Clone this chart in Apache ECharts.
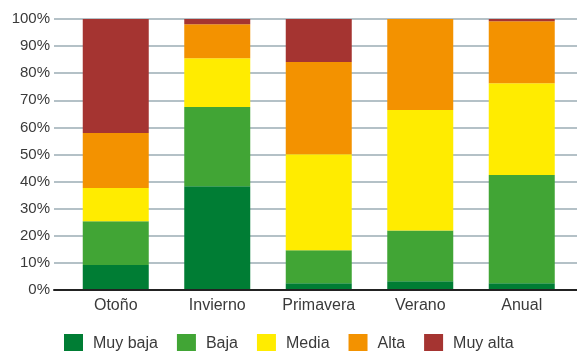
<!DOCTYPE html>
<html>
<head>
<meta charset="utf-8">
<script src="https://cdn.jsdelivr.net/npm/echarts@6/dist/echarts.min.js"></script>
<style>
  html, body { margin: 0; padding: 0; background: #fff; }
  #chart { width: 577px; height: 351px; }
</style>
</head>
<body>
<div id="chart"></div>
<script>
// Seasons and share (%) of each level
const categories = ['Otoño', 'Invierno', 'Primavera', 'Verano', 'Anual'];
const muyBaja = [9.2, 38.3, 2.5, 3.2, 2.5];
const baja    = [16.2, 29.2, 12.2, 18.8, 39.9];
const media   = [12.2, 18.0, 35.4, 44.4, 33.9];
const alta    = [20.3, 12.6, 34.0, 33.6, 22.9];
const muyAlta = [42.1, 1.9, 15.9, 0, 0.8];
const levelNames = ['Muy baja', 'Baja', 'Media', 'Alta', 'Muy alta'];
const levelColors = ['#007d34', '#41a535', '#ffec00', '#f39200', '#a53431'];
const levelData = [muyBaja, baja, media, alta, muyAlta];

const font = "'Liberation Sans', Arial, sans-serif";
const chart = echarts.init(document.getElementById('chart'), null, { renderer: 'canvas' });

chart.setOption({
  animation: false,
  textStyle: { fontFamily: font },
  grid: [
    // frame: percentage scale, gridlines and base line
    { left: 54, right: 0, top: 19, bottom: 61 },
    // bars
    { left: 65, right: 4.5, top: 19, bottom: 61 }
  ],
  xAxis: [
    {
      gridIndex: 0, type: 'value', min: 0, max: 1, z: 10,
      axisLine: { show: true, onZero: false, lineStyle: { color: '#222', width: 2 } },
      axisTick: { show: false }, axisLabel: { show: false }, splitLine: { show: false }
    },
    {
      gridIndex: 1, type: 'category', data: categories,
      axisLine: { show: false }, axisTick: { show: false },
      axisLabel: { color: '#3a3a3a', fontSize: 16, fontFamily: font, margin: 8 }
    }
  ],
  yAxis: [
    {
      gridIndex: 0, type: 'value', min: 0, max: 100, interval: 10,
      axisLine: { show: false }, axisTick: { show: false },
      axisLabel: { formatter: '{value}%', color: '#3a3a3a', fontSize: 15, fontFamily: font, margin: 4 },
      splitLine: { show: true, lineStyle: { color: '#b4c1c7', width: 2 } }
    },
    {
      gridIndex: 1, type: 'value', min: 0, max: 100,
      show: false, splitLine: { show: false }
    }
  ],
  legend: {
    left: 64, top: 334, padding: 0,
    itemWidth: 19, itemHeight: 19, itemGap: 19,
    icon: 'rect',
    textStyle: { color: '#3a3a3a', fontSize: 16, fontFamily: font, padding: [0, 0, 0, 5] },
    data: levelNames
  },
  series: levelNames.map((name, i) => ({
    name: name,
    type: 'bar',
    stack: 'total',
    xAxisIndex: 1,
    yAxisIndex: 1,
    barWidth: 66,
    itemStyle: { color: levelColors[i] },
    data: levelData[i]
  }))
});
</script>
</body>
</html>
